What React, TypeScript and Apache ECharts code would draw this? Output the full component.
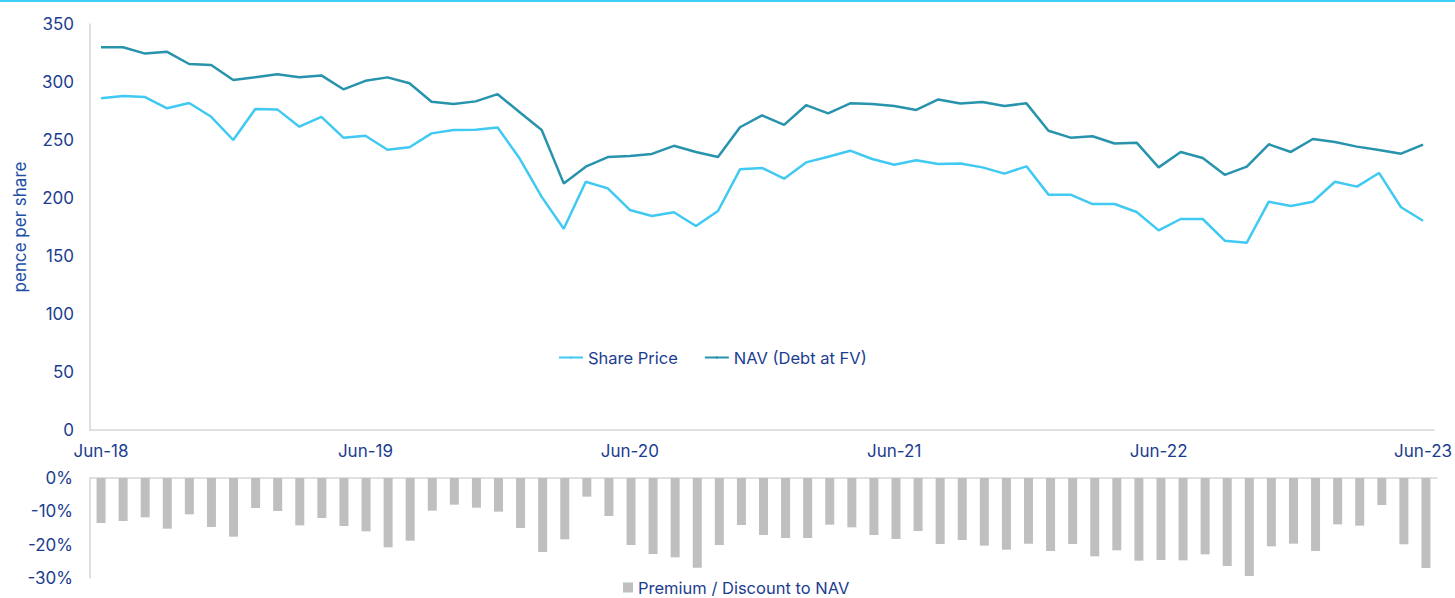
import React, { useEffect, useRef } from 'react';
import * as echarts from 'echarts';

const months = [
  'Jun-18','Jul-18','Aug-18','Sep-18','Oct-18','Nov-18','Dec-18','Jan-19','Feb-19','Mar-19','Apr-19','May-19',
  'Jun-19','Jul-19','Aug-19','Sep-19','Oct-19','Nov-19','Dec-19','Jan-20','Feb-20','Mar-20','Apr-20','May-20',
  'Jun-20','Jul-20','Aug-20','Sep-20','Oct-20','Nov-20','Dec-20','Jan-21','Feb-21','Mar-21','Apr-21','May-21',
  'Jun-21','Jul-21','Aug-21','Sep-21','Oct-21','Nov-21','Dec-21','Jan-22','Feb-22','Mar-22','Apr-22','May-22',
  'Jun-22','Jul-22','Aug-22','Sep-22','Oct-22','Nov-22','Dec-22','Jan-23','Feb-23','Mar-23','Apr-23','May-23',
  'Jun-23',
];

const sharePrice = [
  286, 288, 287, 277.3, 281.9, 270, 250, 276.7, 276.4, 261.5, 270, 252,
  253.7, 241.6, 243.7, 255.7, 258.6, 258.9, 260.8, 234, 201, 173.5, 214, 208.3,
  189.7, 184.5, 187.7, 175.9, 188.8, 224.7, 225.9, 216.6, 230.7, 235.6, 240.8, 233.6,
  228.7, 232.5, 229.3, 229.8, 226.4, 221, 227.3, 202.9, 202.9, 194.8, 194.8, 187.9,
  172.1, 181.9, 181.9, 163.2, 161.5, 196.8, 193.1, 196.8, 214, 209.8, 221.6, 192,
  180.4,
];

const nav = [
  330, 330, 324.5, 326, 315.5, 314.7, 301.7, 304, 306.6, 304, 305.7, 293.7,
  301, 304, 298.9, 283, 281, 283.3, 289.5, 274, 258.6, 212.6, 227, 235.3,
  236.2, 238, 245, 239.7, 235.3, 261, 271.3, 263, 280, 273, 281.6, 281,
  279.3, 275.9, 285, 281.5, 282.8, 279.3, 281.6, 258, 252, 253.2, 247, 247.7,
  226.4, 239.7, 234.5, 220, 227, 246.3, 239.7, 250.9, 248.3, 244.3, 241.4, 238.2,
  246,
];

const discount = [
  -13.5, -12.9, -11.8, -15.2, -10.9, -14.7, -17.6, -9.0, -9.9, -14.2, -12.0, -14.4,
  -16.0, -20.8, -18.8, -9.8, -8.0, -8.9, -10.1, -15.0, -22.2, -18.4, -5.6, -11.4,
  -20.1, -22.8, -23.8, -26.9, -20.1, -14.1, -17.1, -18.0, -18.0, -14.0, -14.8, -17.1,
  -18.3, -15.9, -19.8, -18.6, -20.3, -21.5, -19.7, -21.9, -19.8, -23.5, -21.7, -24.8,
  -24.6, -24.7, -22.9, -26.4, -29.4, -20.5, -19.7, -21.9, -13.9, -14.3, -8.1, -19.9,
  -27.0,
];

const FONT = 'Inter';
const LABEL = '#1c3d8f';
const AXIS = '#d6d6d6';

export default function App() {
  const ref = useRef<HTMLDivElement>(null);
  useEffect(() => {
    if (!ref.current) return;
    const chart = echarts.init(ref.current, undefined, { renderer: 'svg' });
    chart.setOption({
      animation: false,
      textStyle: { fontFamily: FONT },
      graphic: [
        { type: 'rect', left: 0, top: 0, shape: { width: 1455, height: 2 }, style: { fill: '#3fcff6' } },
      ],
      legend: [
        {
          data: ['Share Price', 'NAV (Debt at FV)'],
          left: 553, top: 344,
          itemWidth: 24, itemHeight: 3, itemGap: 26,
          textStyle: { color: LABEL, fontSize: 16.5, fontFamily: FONT },
        },
        {
          data: ['Premium / Discount to NAV'],
          left: 618, top: 574,
          icon: 'rect', itemWidth: 10, itemHeight: 10, itemGap: 10,
          textStyle: { color: LABEL, fontSize: 16.5, fontFamily: FONT },
        },
      ],
      grid: [
        { left: 90, right: 18, top: 24, height: 406 },
        { left: 90, right: 18, top: 478, height: 100 },
      ],
      xAxis: [
        {
          type: 'category', gridIndex: 0, data: months, boundaryGap: true,
          axisLine: { lineStyle: { color: AXIS, width: 1.5 } },
          axisTick: { interval: 11, length: 5, lineStyle: { color: AXIS } },
          axisLabel: { interval: 11, color: LABEL, fontSize: 17, fontFamily: FONT, margin: 12 },
        },
        {
          type: 'category', gridIndex: 1, data: months, boundaryGap: true, position: 'top',
          axisLine: { onZero: false, lineStyle: { color: AXIS, width: 1.5 } },
          axisTick: { interval: 11, length: 5, inside: true, lineStyle: { color: AXIS } },
          axisLabel: { show: false },
        },
      ],
      yAxis: [
        {
          type: 'value', gridIndex: 0, min: 0, max: 350, interval: 50,
          name: 'pence per share', nameLocation: 'middle', nameGap: 62, nameRotate: 90,
          nameTextStyle: { color: '#2250a6', fontSize: 17, fontFamily: FONT },
          axisLine: { show: true, lineStyle: { color: AXIS, width: 1.5 } },
          axisTick: { show: false },
          splitLine: { show: false },
          axisLabel: { color: LABEL, fontSize: 17, fontFamily: FONT, margin: 16 },
        },
        {
          type: 'value', gridIndex: 1, min: -30, max: 0, interval: 10,
          axisLine: { show: true, lineStyle: { color: AXIS, width: 1.5 } },
          axisTick: { show: false },
          splitLine: { show: false },
          axisLabel: { color: LABEL, fontSize: 17, fontFamily: FONT, margin: 17, formatter: (v: number) => `${v}%` },
        },
      ],
      series: [
        {
          name: 'Share Price', type: 'line', xAxisIndex: 0, yAxisIndex: 0, data: sharePrice,
          symbol: 'none', lineStyle: { color: '#40c9f2', width: 2.5 }, itemStyle: { color: '#40c9f2' },
        },
        {
          name: 'NAV (Debt at FV)', type: 'line', xAxisIndex: 0, yAxisIndex: 0, data: nav,
          symbol: 'none', lineStyle: { color: '#2793ad', width: 2.5 }, itemStyle: { color: '#2793ad' },
        },
        {
          name: 'Premium / Discount to NAV', type: 'bar', xAxisIndex: 1, yAxisIndex: 1, data: discount,
          barWidth: 9, itemStyle: { color: '#bfbfbf' },
        },
      ],
    });
    return () => chart.dispose();
  }, []);
  return (
    <div
      ref={ref}
      style={{ position: 'fixed', left: 0, top: 0, width: 1455, height: 598, background: '#fff' }}
    />
  );
}
